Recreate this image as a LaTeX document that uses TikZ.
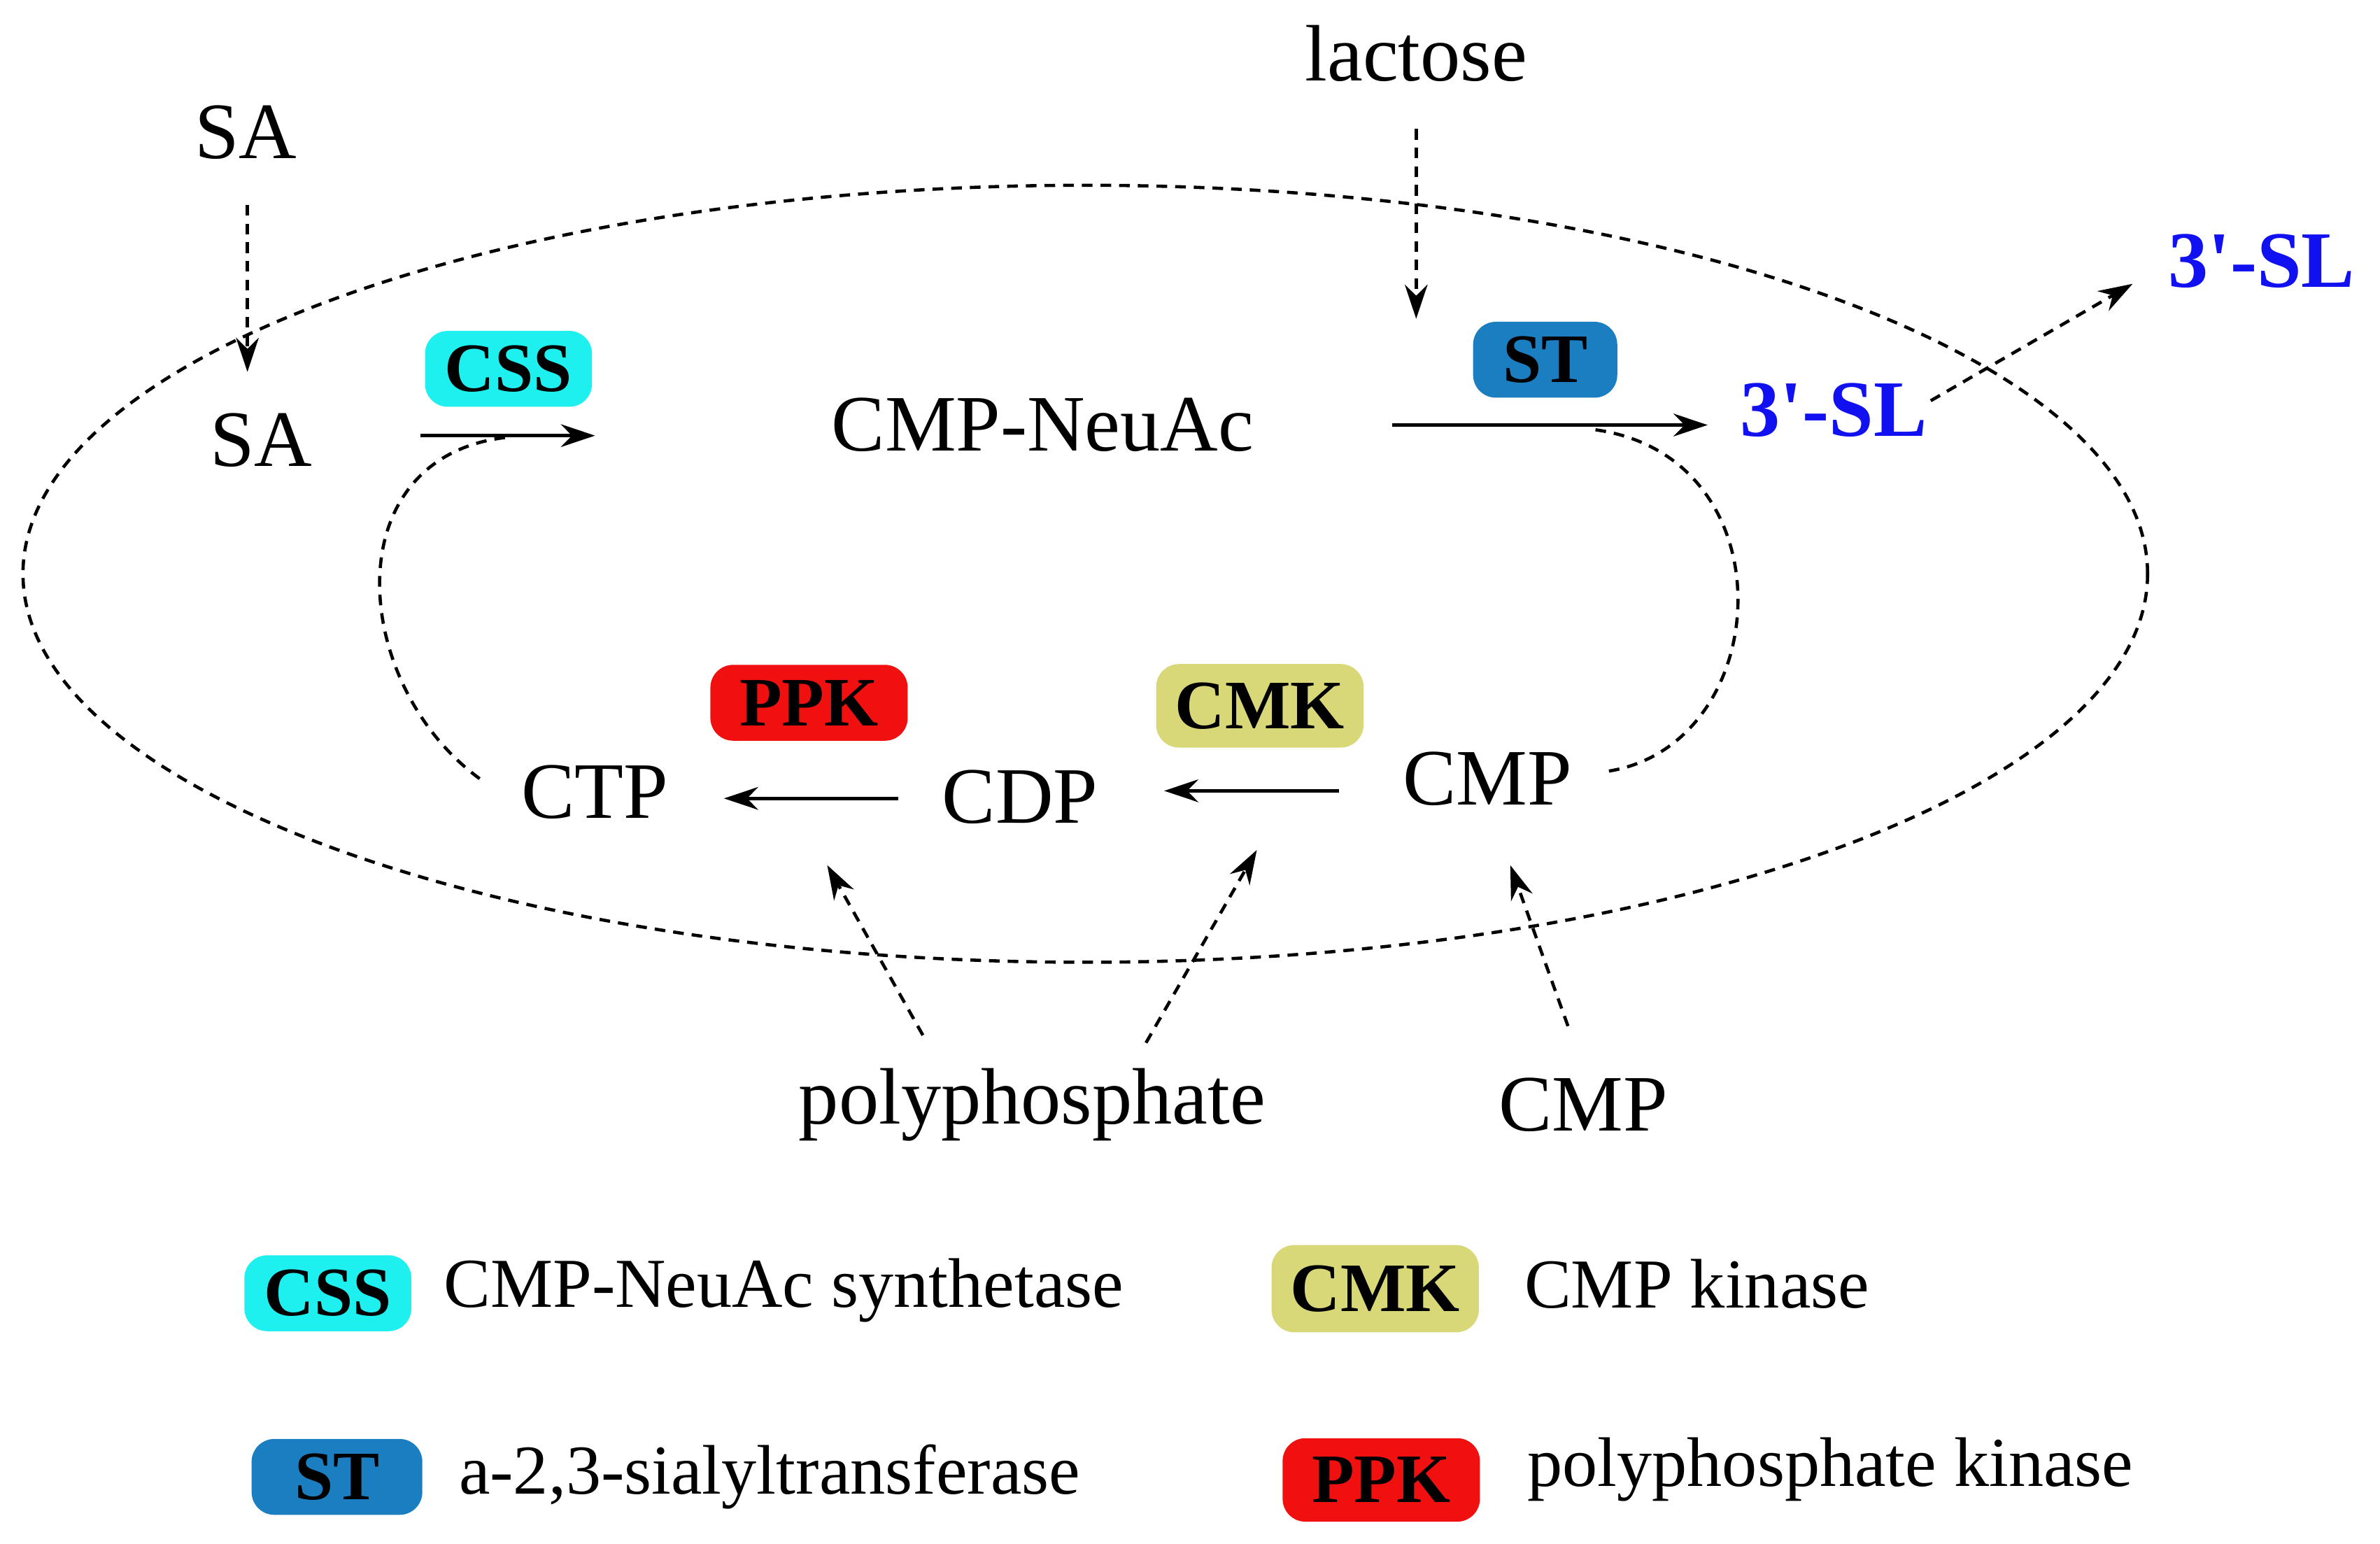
\documentclass[tikz,border=0pt]{standalone}
\usepackage{fontspec}
\setmainfont{Liberation Serif}
\newfontfamily\nomapfont{Liberation Serif}
\usetikzlibrary{arrows.meta,shapes.geometric}
\definecolor{cssc}{HTML}{1EF0F0}
\definecolor{stc}{HTML}{1A7EC0}
\definecolor{ppkc}{HTML}{F01010}
\definecolor{cmkc}{HTML}{D8D878}
\definecolor{slc}{HTML}{1010F0}
\newcommand{\sq}{{\nomapfont\bfseries '}}
\begin{document}
\begin{tikzpicture}[x=0.02cm,y=-0.02cm,
  lab/.style={font=\fontsize{30}{32}\selectfont, inner sep=0pt},
  leg/.style={font=\fontsize{26.3}{28}\selectfont, inner sep=0pt, anchor=west},
  badge/.style={fill=#1, rounded corners=0.3cm, font=\bfseries\fontsize{26}{28}\selectfont, minimum height=1cm, minimum width=2.2cm, inner xsep=0.25cm, inner ysep=0pt},
  dsh/.style={dash pattern=on 4pt off 3pt, line width=1.2pt},
  arr/.style={-{Stealth[length=0.45cm,width=0.3cm]}, line width=1.2pt}]
\useasboundingbox (0,0) rectangle (1568,1017);
\node[draw, dsh, ellipse, inner sep=0pt, minimum width=28cm, minimum height=10.24cm] (ell) at (715,378) {};
\node[lab] (SAo) at (162,87) {SA};
\node[lab] (SAi) at (172,290) {SA};
\node[lab] (lac) at (933,35) {lactose};
\node[lab] (neu) at (687,280) {CMP-NeuAc};
\node[lab, font=\bfseries\fontsize{30}{32}\selectfont, text=slc] (sl) at (1208,270) {3\sq-SL};
\node[lab, font=\bfseries\fontsize{30}{32}\selectfont, text=slc] (slo) at (1490,172) {3\sq-SL};
\node[lab] (ctp) at (392,522) {CTP};
\node[lab] (cdp) at (672,525) {CDP};
\node[lab] (cmp) at (980,513) {CMP};
\node[lab] (poly) at (680,728) {polyphosphate};
\node[lab] (cmpb) at (1043,728) {CMP};
\node[badge=cssc] (css) at (335,243) {CSS};
\node[badge=stc, minimum width=1.9cm] (st) at (1018,237) {ST};
\node[badge=ppkc, minimum width=2.6cm] (ppk) at (533,463) {PPK};
\node[badge=cmkc, minimum width=2.7cm, minimum height=1.1cm] (cmk) at (830,465) {CMK};
% arrows
\coordinate (a1) at (163,135); \coordinate (a2) at (163,245);
\draw[dsh, arr] (a1) -- (a2);
\coordinate (b1) at (933,85); \coordinate (b2) at (933,210);
\draw[dsh, arr] (b1) -- (b2);
\coordinate (c1) at (277,287); \coordinate (c2) at (392,287);
\draw[arr] (c1) -- (c2);
\coordinate (d1) at (917,280); \coordinate (d2) at (1125,280);
\draw[arr] (d1) -- (d2);
\coordinate (e1) at (1272,264); \coordinate (e2) at (1405,187);
\draw[dsh, arr] (e1) -- (e2);
\coordinate (f1) at (1060,508); \coordinate (f2) at (1050,283);
\draw[dsh] (f1) .. controls (1170,490) and (1180,300) .. (f2);
\coordinate (g1) at (316,513); \coordinate (g2) at (335,288);
\draw[dsh] (g1) .. controls (230,450) and (220,300) .. (g2);
\coordinate (h1) at (592,526); \coordinate (h2) at (477,526);
\draw[arr] (h1) -- (h2);
\coordinate (i1) at (882,521); \coordinate (i2) at (767,521);
\draw[arr] (i1) -- (i2);
\coordinate (j1) at (608,682); \coordinate (j2) at (545,570);
\draw[dsh, arr] (j1) -- (j2);
\coordinate (k1) at (755,687); \coordinate (k2) at (828,560);
\draw[dsh, arr] (k1) -- (k2);
\coordinate (l1) at (1033,676); \coordinate (l2) at (995,570);
\draw[dsh, arr] (l1) -- (l2);
% legend
\node[badge=cssc] (lcss) at (216,852) {CSS};
\node[leg] (tcss) at (292,850) {CMP-NeuAc synthetase};
\node[badge=cmkc, minimum width=2.7cm, minimum height=1.15cm] (lcmk) at (906,849) {CMK};
\node[leg] (tcmk) at (1004,846) {CMP kinase};
\node[badge=stc, minimum width=2.25cm] (lst) at (222,973) {ST};
\node[leg] (tst) at (302,973) {a-2,3-sialyltransferase};
\node[badge=ppkc, minimum width=2.6cm, minimum height=1.1cm] (lppk) at (910,975) {PPK};
\node[leg] (tppk) at (1006,968) {polyphosphate kinase};
\end{tikzpicture}
\end{document}
